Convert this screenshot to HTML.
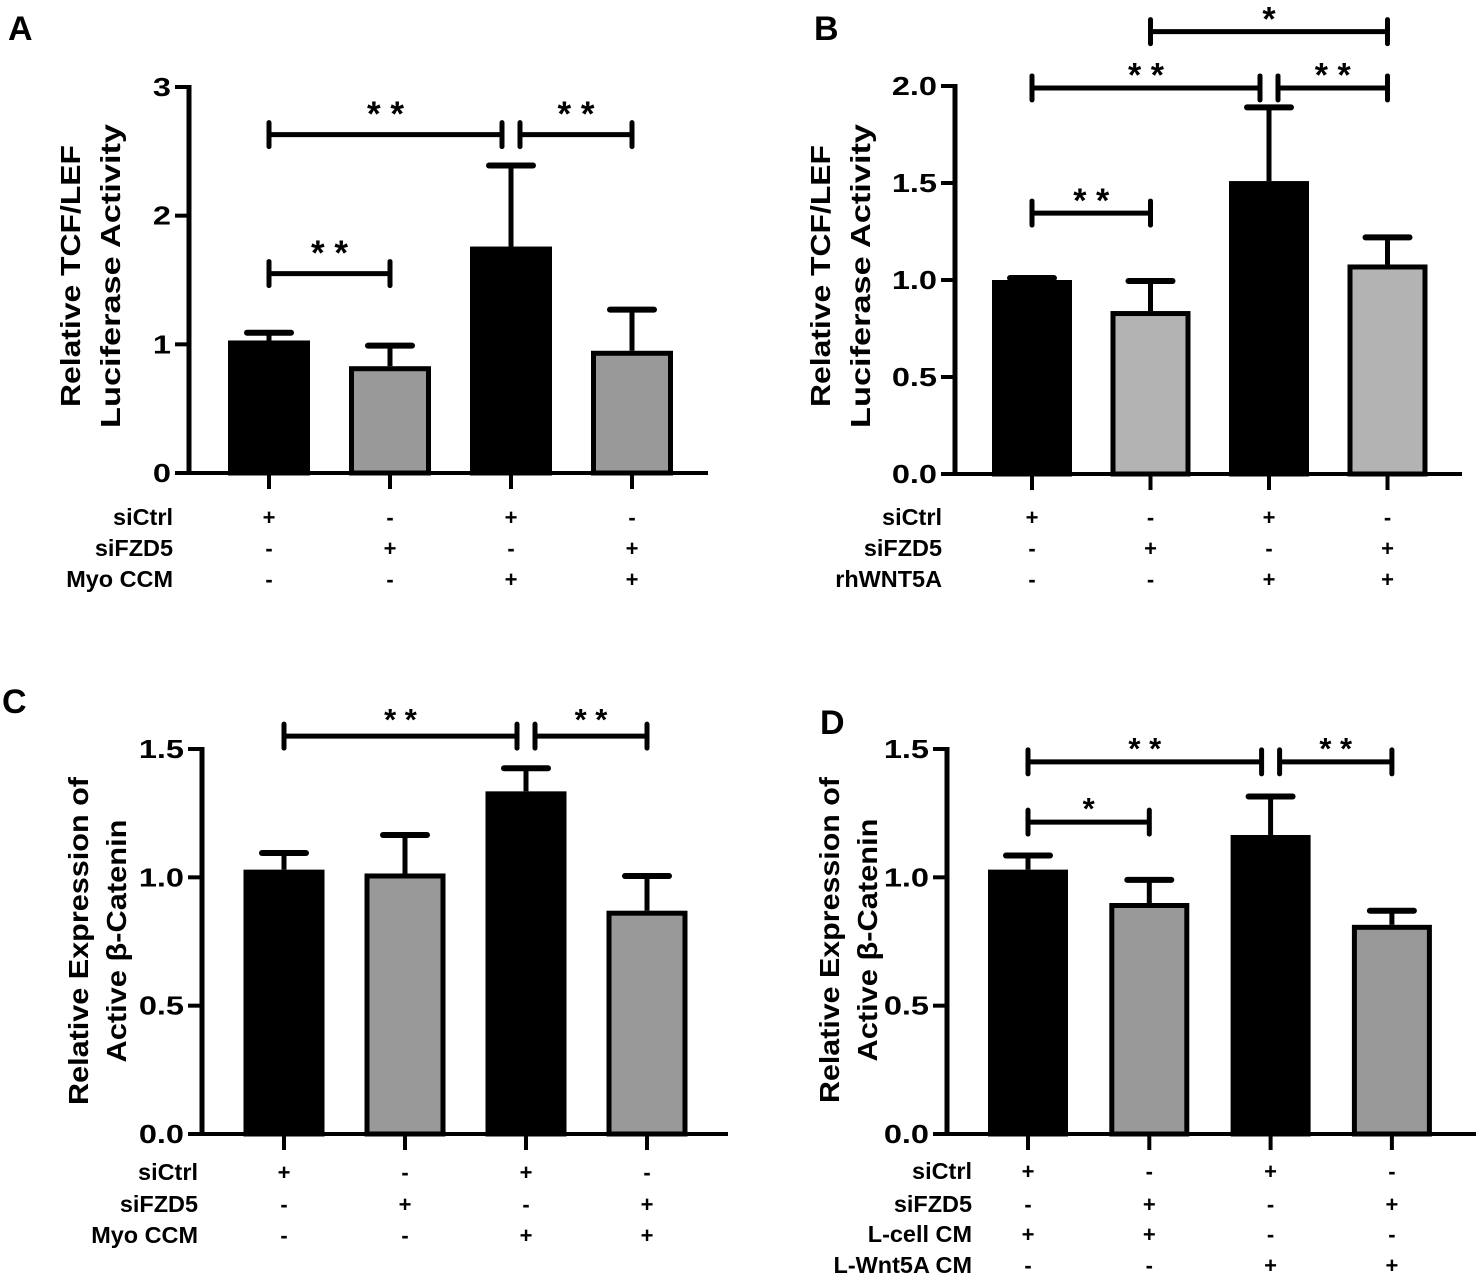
<!DOCTYPE html>
<html><head><meta charset="utf-8">
<style>
html,body{margin:0;padding:0;background:#fff;}
svg{display:block;font-family:"Liberation Sans",Arial,sans-serif;font-weight:bold;}
</style></head>
<body>
<svg id="fig" width="1478" height="1279" viewBox="0 0 1478 1279" xmlns="http://www.w3.org/2000/svg"></svg>
<script>
// ---- Panel A data ----
const aTicks = ["0","1","2","3"];
const aTickValues = [0,1,2,3];
const aValues = [1.03, 0.83, 1.76, 0.95];
const aErrTops = [1.09, 0.99, 2.39, 1.27];
const aRowLabels = ["siCtrl","siFZD5","Myo CCM"];
const aSigns = [["+","-","+","-"],["-","+","-","+"],["-","-","+","+"]];
const aBrackets = [[0,2,2.63,"* *"],[2,3,2.63,"* *"],[0,1,1.55,"* *"]];
// ---- Panel B data ----
const bTicks = ["0.0","0.5","1.0","1.5","2.0"];
const bTickValues = [0,0.5,1,1.5,2];
const bValues = [1.0, 0.84, 1.51, 1.08];
const bErrTops = [1.01, 0.995, 1.89, 1.22];
const bRowLabels = ["siCtrl","siFZD5","rhWNT5A"];
const bSigns = [["+","-","+","-"],["-","+","-","+"],["-","-","+","+"]];
const bBrackets = [[1,3,2.28,"*"],[0,2,1.99,"* *"],[2,3,1.99,"* *"],[0,1,1.345,"* *"]];
// ---- Panel C data ----
const cTicks = ["0.0","0.5","1.0","1.5"];
const cTickValues = [0,0.5,1,1.5];
const cValues = [1.03, 1.015, 1.335, 0.87];
const cErrTops = [1.095, 1.165, 1.425, 1.005];
const cRowLabels = ["siCtrl","siFZD5","Myo CCM"];
const cSigns = [["+","-","+","-"],["-","+","-","+"],["-","-","+","+"]];
const cBrackets = [[0,2,1.55,"* *"],[2,3,1.55,"* *"]];
// ---- Panel D data ----
const dTicks = ["0.0","0.5","1.0","1.5"];
const dTickValues = [0,0.5,1,1.5];
const dValues = [1.03, 0.9, 1.165, 0.815];
const dErrTops = [1.085, 0.99, 1.315, 0.87];
const dRowLabels = ["siCtrl","siFZD5","L-cell CM","L-Wnt5A  CM"];
const dSigns = [["+","-","+","-"],["-","+","-","+"],["+","+","-","-"],["-","-","+","+"]];
const dBrackets = [[0,2,1.45,"* *"],[2,3,1.45,"* *"],[0,1,1.215,"*"]];

const NS = "http://www.w3.org/2000/svg";
const svg = document.getElementById("fig");
function mk(tag, attrs, parent, text){
  const e = document.createElementNS(NS, tag);
  for (const k in attrs) e.setAttribute(k, attrs[k]);
  if (text !== undefined) e.textContent = text;
  (parent || svg).appendChild(e);
  return e;
}

function panel(p){
  const g = mk("g", {});
  
  
  const yScale = v => p.y0 - (v / p.max) * (p.y0 - p.yTop);
  const xCenter = i => p.cx0 + i * p.step;

  const L = mk("text", {x:p.letterX, y:p.letterY, "font-size":34}, g, p.id);
  
  

  p.title.forEach((t, k) => {
    const tx = p.titleX[k];
    const tt = mk("text", {x:0, y:0, "font-size":28, "text-anchor":"middle",
      transform:"translate(" + tx + "," + p.titleCY + ") rotate(-90)",
      textLength:p.titleLen[k], lengthAdjust:"spacingAndGlyphs"}, g, t);
    
    
  });

  p.values.forEach((v, i) => {
    const cx = xCenter(i);
    const black = i % 2 === 0;
    const top = yScale(v);
    const r = mk("rect", {x:cx - p.bw/2 + 2.5, y:top + 2.5, width:p.bw - 5, height:p.y0 - top - 2.5,
      fill: black ? "#000" : p.gray, stroke:"#000", "stroke-width":5}, g);
    
    
    const et = yScale(p.errs[i]);
    const el = mk("line", {x1:cx, x2:cx, y1:et, y2:top, stroke:"#000", "stroke-width":5}, g);
    
    
    const cap = mk("line", {x1:cx - 22, x2:cx + 22, y1:et, y2:et, stroke:"#000", "stroke-width":6, "stroke-linecap":"round"}, g);
    
    
    const tk = mk("line", {x1:cx, x2:cx, y1:p.y0, y2:p.y0 + 16, stroke:"#000", "stroke-width":4}, g);
    
    
  });

  const ya = mk("line", {x1:p.ax, x2:p.ax, y1:p.yTop - 2, y2:p.y0 + 2, stroke:"#000", "stroke-width":5}, g);
  
  
  const xa = mk("line", {x1:p.ax - 14, x2:p.axEnd, y1:p.y0, y2:p.y0, stroke:"#000", "stroke-width":4}, g);
  
  
  p.tickValues.forEach((tv, k) => {
    const y = yScale(tv);
    const tl = mk("line", {x1:p.ax - 14, x2:p.ax, y1:y, y2:y, stroke:"#000", "stroke-width":4}, g);
    
    
    const tx = mk("text", {x:0, y:0, "font-size":26, "text-anchor":"end",
      transform:"translate(" + (p.ax - 18) + "," + (y + 9) + ") scale(1.25,1)"}, g, p.ticks[k]);
    
    
  });

  p.brackets.forEach((b, k) => {
    const [i, j, v, s] = b;
    let x1 = xCenter(i), x2 = xCenter(j);
    if (p.brackets.some(o => o !== b && o[2] === v && o[1] === i)) x1 += 9;
    if (p.brackets.some(o => o !== b && o[2] === v && o[0] === j)) x2 -= 9;
    const y = yScale(v);
    const bg = mk("g", {}, g);
    
    
    mk("line", {x1:x1, x2:x2, y1:y, y2:y, stroke:"#000", "stroke-width":5}, bg);
    mk("line", {x1:x1, x2:x1, y1:y - 12, y2:y + 12, stroke:"#000", "stroke-width":5, "stroke-linecap":"round"}, bg);
    mk("line", {x1:x2, x2:x2, y1:y - 12, y2:y + 12, stroke:"#000", "stroke-width":5, "stroke-linecap":"round"}, bg);
    const st = mk("text", {x:(x1 + x2) / 2, y:y - p.starOff + p.starSize * 0.58, "font-size":p.starSize,
      "text-anchor":"middle"}, bg, s);
    
    
  });

  p.rowLabels.forEach((lab, r) => {
    const ry = p.rowY[r];
    const lt = mk("text", {x:0, y:0, "font-size":23, "text-anchor":"end",
      transform:"translate(" + p.labelRight + "," + (ry + 8) + ") scale(1.02,1)"}, g, lab);
    
    
    p.signs[r].forEach((sg, i) => {
      const st = mk("text", {x:xCenter(i), y:ry + 8, "font-size":22, "text-anchor":"middle"}, g, sg);
      
      
    });
  });
}

panel({id:"A", ax:189, y0:473, yTop:87, max:3, axEnd:708, cx0:269, step:121, bw:82, gray:"#999999",
  ticks:aTicks, tickValues:aTickValues, values:aValues, errs:aErrTops, brackets:aBrackets,
  rowLabels:aRowLabels, signs:aSigns, rowY:[517,548,579], labelRight:173,
  title:["Relative TCF/LEF","Luciferase Activity"], titleX:[80,120], titleCY:276, titleLen:[262,304],
  letterX:8, letterY:40, starOff:29, starSize:35});
panel({id:"B", ax:955, y0:474, yTop:86, max:2, axEnd:1462, cx0:1032, step:118.5, bw:80, gray:"#b3b3b3",
  ticks:bTicks, tickValues:bTickValues, values:bValues, errs:bErrTops, brackets:bBrackets,
  rowLabels:bRowLabels, signs:bSigns, rowY:[517,548,579], labelRight:942,
  title:["Relative TCF/LEF","Luciferase Activity"], titleX:[830,870], titleCY:276, titleLen:[262,304],
  letterX:814, letterY:40, starOff:21, starSize:34});
panel({id:"C", ax:202, y0:1134, yTop:749, max:1.5, axEnd:728, cx0:284, step:121, bw:81, gray:"#999999",
  ticks:cTicks, tickValues:cTickValues, values:cValues, errs:cErrTops, brackets:cBrackets,
  rowLabels:cRowLabels, signs:cSigns, rowY:[1172,1204,1235], labelRight:198,
  title:["Relative Expression of","Active \u03b2-Catenin"], titleX:[88,126], titleCY:941, titleLen:[328,243],
  letterX:2, letterY:713, starOff:24, starSize:31});
panel({id:"D", ax:947, y0:1134, yTop:749, max:1.5, axEnd:1476, cx0:1028, step:121.3, bw:80, gray:"#999999",
  ticks:dTicks, tickValues:dTickValues, values:dValues, errs:dErrTops, brackets:dBrackets,
  rowLabels:dRowLabels, signs:dSigns, rowY:[1171,1204,1234,1265], labelRight:972,
  title:["Relative Expression of","Active \u03b2-Catenin"], titleX:[839,877], titleCY:940, titleLen:[326,243],
  letterX:820, letterY:734, starOff:21, starSize:31});
</script>
</body></html>
